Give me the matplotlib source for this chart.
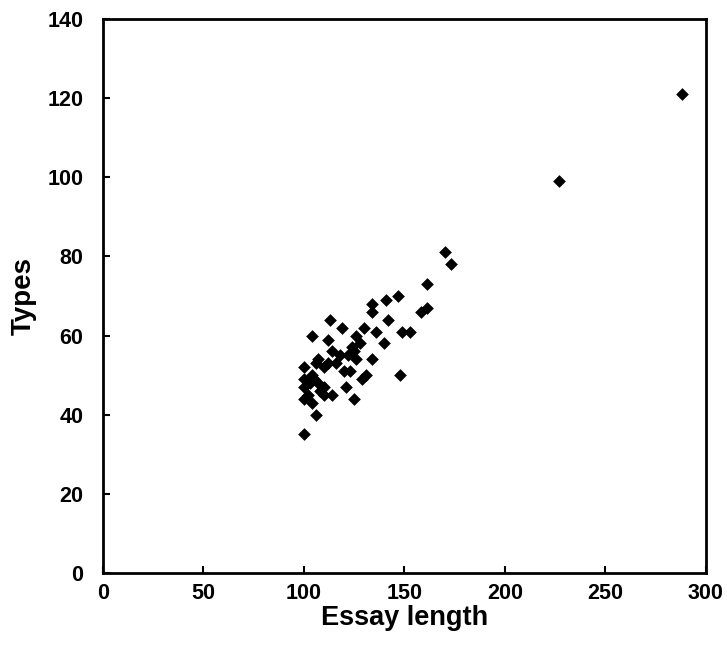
import matplotlib
matplotlib.use("Agg")
import matplotlib.pyplot as plt

plt.rcParams['font.family'] = ['Liberation Sans', 'DejaVu Sans']

essay_length = [288, 227, 170, 173, 161, 161, 158, 147, 141, 134, 134, 142, 130, 136,
                149, 153, 126, 128, 140, 125, 126, 134, 148, 131, 129, 125, 123, 121,
                120, 113, 119, 104, 112, 100, 107, 112, 116, 118, 122, 114, 110, 106,
                100, 100, 102, 100, 103, 105, 104, 107, 110, 108, 110, 114, 104, 106,
                100, 124]
types = [121, 99, 81, 78, 73, 67, 66, 70, 69, 68, 66, 64, 62, 61,
         61, 61, 60, 58, 58, 56, 54, 54, 50, 50, 49, 44, 51, 47,
         51, 64, 62, 60, 59, 52, 54, 53, 53, 55, 55, 56, 52, 53,
         49, 47, 45, 44, 48, 49, 50, 48, 47, 46, 45, 45, 43, 40,
         35, 57]

x_ticks = [0, 50, 100, 150, 200, 250, 300]
y_ticks = [0, 20, 40, 60, 80, 100, 120, 140]

fig = plt.figure(figsize=(7.27, 6.47), dpi=100)
ax = fig.add_axes([0.1417, 0.1144, 0.8293, 0.8562])

ax.scatter(essay_length, types, marker='D', s=42, color='black', linewidths=0)

ax.set_xlim(0, 300)
ax.set_ylim(0, 140)
ax.set_xticks(x_ticks)
ax.set_yticks(y_ticks)
ax.tick_params(direction='in', length=5, width=1.5, labelsize=15.5)
ax.tick_params(axis='x', pad=7)
ax.tick_params(axis='y', pad=14)
for lab in ax.get_xticklabels() + ax.get_yticklabels():
    lab.set_fontweight('bold')
for sp in ax.spines.values():
    sp.set_linewidth(2)

ax.set_xlabel('Essay length', fontsize=19.5, fontweight='bold', labelpad=1)
ax.set_ylabel('Types', fontsize=20, fontweight='bold', labelpad=8)

fig.savefig('out.png', dpi=100)
